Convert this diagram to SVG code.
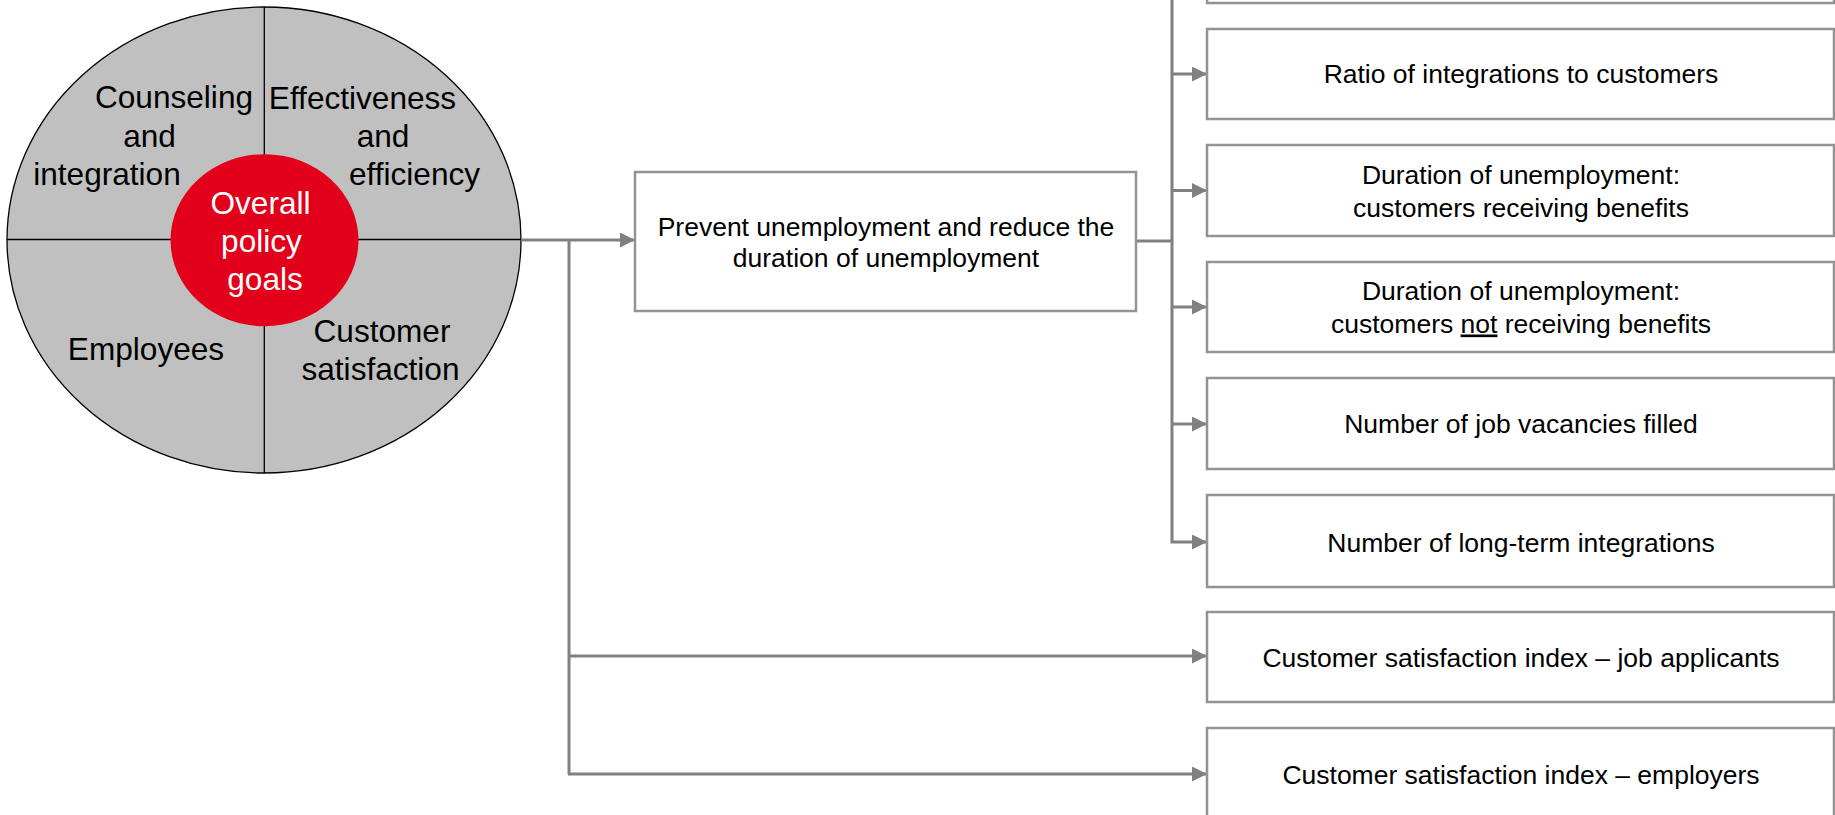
<svg xmlns="http://www.w3.org/2000/svg" width="1835" height="815" viewBox="0 0 1835 815">
<defs>
<marker id="arr" markerUnits="userSpaceOnUse" markerWidth="16" markerHeight="16" refX="15" refY="7.5" orient="auto">
<path d="M0,0 L15,7.5 L0,15 Z" fill="#808080"/>
</marker>
<style>
.big{font-family:"Liberation Sans",Arial,sans-serif;font-size:31.6px;fill:#000;text-anchor:middle}
.wh{fill:#fff}
.box{fill:#fff;stroke:#939393;stroke-width:2.5}
.t{font-family:"Liberation Sans",Arial,sans-serif;font-size:26.5px;fill:#000;text-anchor:middle}
.ln{fill:none;stroke:#808080;stroke-width:3}
.ar{fill:none;stroke:#808080;stroke-width:3;marker-end:url(#arr)}
</style>
</defs>
<rect width="1835" height="815" fill="#fff"/>

<g id="goals-wheel">
<ellipse cx="264" cy="240" rx="257" ry="233" fill="#c0c0c0" stroke="#000" stroke-width="1.3"/>
<line x1="264.3" y1="7" x2="264.3" y2="473" stroke="#000" stroke-width="1.3"/>
<line x1="7" y1="239.5" x2="521" y2="239.5" stroke="#000" stroke-width="1.3"/>
<text class="big" x="174" y="108">Counseling</text>
<text class="big" x="149.5" y="147">and</text>
<text class="big" x="107" y="185">integration</text>
<text class="big" x="362.5" y="109">Effectiveness</text>
<text class="big" x="383" y="147">and</text>
<text class="big" x="414.5" y="185">efficiency</text>
<text class="big" x="146" y="360">Employees</text>
<text class="big" x="382" y="342">Customer</text>
<text class="big" x="380.5" y="380">satisfaction</text>
</g>

<g id="overall-goals">
<ellipse cx="264.5" cy="240.2" rx="94" ry="86" fill="#e2001a"/>
<text class="big wh" x="260.5" y="214">Overall</text>
<text class="big wh" x="261.5" y="252">policy</text>
<text class="big wh" x="265" y="290">goals</text>
</g>

<g id="connectors">
<line class="ln" x1="521" y1="240" x2="569" y2="240"/>
<line class="ar" x1="569" y1="240" x2="635" y2="240"/>
<polyline class="ln" points="569,240 569,774"/>
<line class="ar" x1="569" y1="656" x2="1207" y2="656"/>
<line class="ar" x1="568" y1="774" x2="1207" y2="774"/>
<line class="ln" x1="1136" y1="241" x2="1172" y2="241"/>
<polyline class="ar" points="1172,-50 1172,542 1207,542"/>
<line class="ar" x1="1172" y1="-42" x2="1207" y2="-42"/>
<line class="ar" x1="1172" y1="74" x2="1207" y2="74"/>
<line class="ar" x1="1172" y1="190.5" x2="1207" y2="190.5"/>
<line class="ar" x1="1172" y1="307" x2="1207" y2="307"/>
<line class="ar" x1="1172" y1="424" x2="1207" y2="424"/>
</g>

<g id="prevent">
<rect class="box" x="635" y="172" width="501" height="139"/>
<text class="t" x="886" y="236">Prevent unemployment and reduce the</text>
<text class="t" x="886" y="267">duration of unemployment</text>
</g>

<g id="kpi-top">
<rect class="box" x="1207" y="-88" width="627" height="91"/>
</g>
<g id="kpi-ratio">
<rect class="box" x="1207" y="29" width="627" height="90"/>
<text class="t" x="1521" y="83">Ratio of integrations to customers</text>
</g>
<g id="kpi-duration-benefits">
<rect class="box" x="1207" y="145" width="627" height="91"/>
<text class="t" x="1521" y="183.5">Duration of unemployment:</text>
<text class="t" x="1521" y="216.5">customers receiving benefits</text>
</g>
<g id="kpi-duration-nobenefits">
<rect class="box" x="1207" y="262" width="627" height="90"/>
<text class="t" x="1521" y="300">Duration of unemployment:</text>
<text class="t" x="1521" y="332.5">customers <tspan text-decoration="underline">not</tspan> receiving benefits</text>
</g>
<g id="kpi-vacancies">
<rect class="box" x="1207" y="378" width="627" height="91"/>
<text class="t" x="1521" y="433">Number of job vacancies filled</text>
</g>
<g id="kpi-longterm">
<rect class="box" x="1207" y="495" width="627" height="92"/>
<text class="t" x="1521" y="552">Number of long-term integrations</text>
</g>
<g id="kpi-csi-applicants">
<rect class="box" x="1207" y="612" width="627" height="90"/>
<text class="t" x="1521" y="667">Customer satisfaction index – job applicants</text>
</g>
<g id="kpi-csi-employers">
<rect class="box" x="1207" y="728" width="627" height="91"/>
<text class="t" x="1521" y="784">Customer satisfaction index – employers</text>
</g>
</svg>
